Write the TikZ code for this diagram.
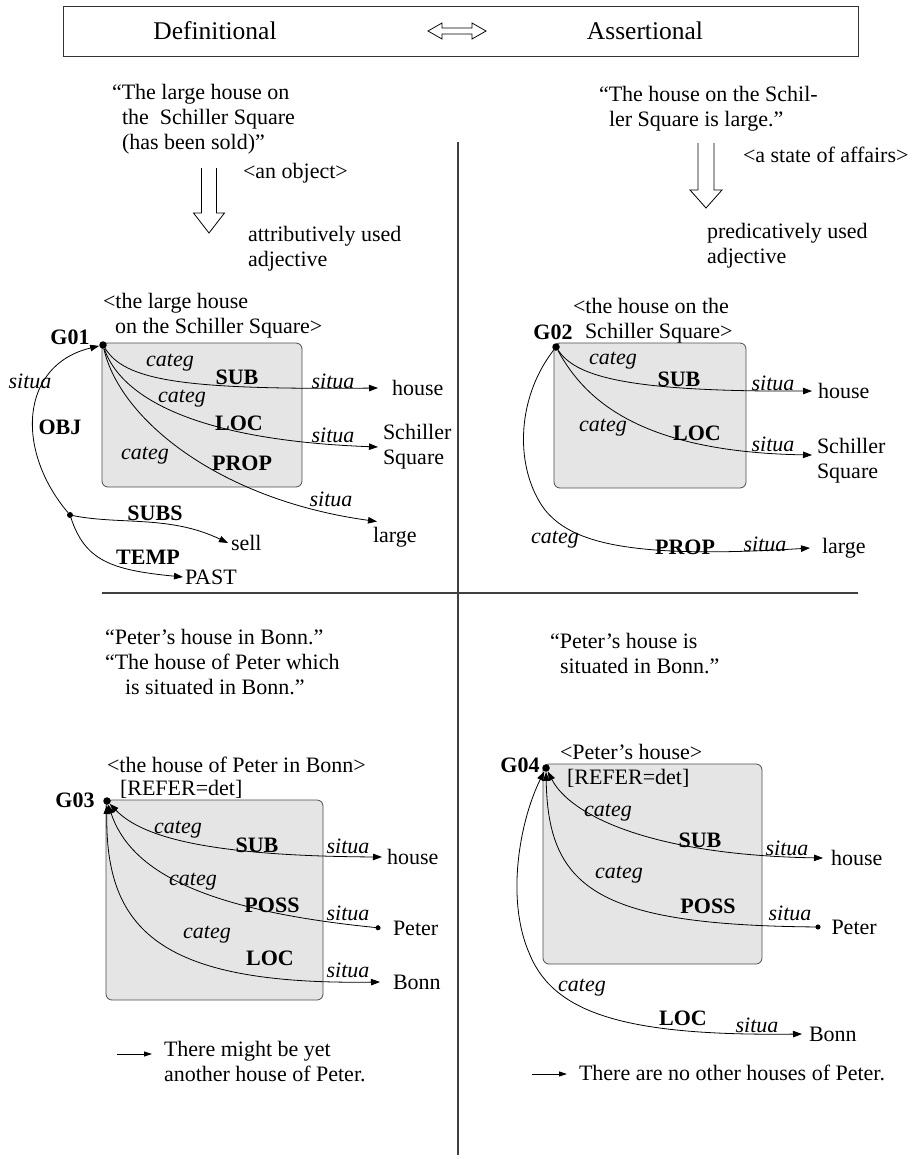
\documentclass[tikz,border=0pt]{standalone}
\usepackage{fontspec}
\setmainfont{Liberation Serif}
\usetikzlibrary{arrows.meta}
\begin{document}
\begin{tikzpicture}[x=1pt,y=-1pt,
  txt/.style={font=\fontsize{22}{25}\selectfont, inner sep=0pt, outer sep=0pt},
  head/.style={txt, font=\fontsize{25.5}{28}\selectfont},
  cat/.style={txt, font=\fontsize{22}{25}\selectfont\itshape},
  rel/.style={txt, font=\fontsize{22}{25}\selectfont\bfseries},
  blk/.style={txt, align=left, anchor=west},
  tgt/.style={txt, anchor=west, outer sep=#1},
  tgt/.default=4pt,
  gdot/.style={circle, fill=black, inner sep=0pt, minimum size=7.5pt},
  sdot/.style={circle, fill=black, inner sep=0pt, minimum size=6pt},
  conn/.style={line width=0.8pt},
  tohead/.style={conn, -{Triangle[length=9pt,width=6.5pt]}},
  bothhead/.style={conn, {Triangle[length=9pt,width=6.5pt]}-{Triangle[length=9pt,width=6.5pt]}},
  headdot/.style={conn, {Triangle[length=9pt,width=6.5pt]}-{Circle[length=5pt]}},
  notearrow/.style={conn, -{Triangle[length=8pt,width=5pt]}},
  gbox/.style={draw=black!70, line width=0.8pt, fill=black!10, rounded corners=6pt},
  hollow/.style={line width=0.8pt, line join=miter},
  divider/.style={draw=black!75, line width=1.2pt}]
\useasboundingbox (0,0) rectangle (918,1159);

% ---------- header ----------
\draw[draw=black!80, line width=1pt] (63,6) rectangle (858,56);
\node[head] (defn) at (215,31) {Definitional};
\node[head] (asrt) at (645,31) {Assertional};
\draw[hollow] (442,28) -- (472,28) -- (472,23) -- (486,31) -- (472,39) -- (472,34)
  -- (442,34) -- (442,39) -- (428,31) -- (442,23) -- cycle;

% ---------- quadrant dividers ----------
\draw[divider] (458,142) -- (458,1155);
\draw[divider] (102,593) -- (858,593);

% ---------- definitional: attributive adjective ----------
\node[blk] (q1quote) at (112,119) {“The large house on\\\hspace*{10pt}the\ \ Schiller Square\\\hspace*{10pt}(has been sold)”};
\draw[hollow] (201.5,168) -- (201.5,213) -- (193.5,213) -- (209,233) -- (224.5,213) -- (216.5,213) -- (216.5,168);
\node[blk] (q1obj) at (243,173) {<an object>};
\node[blk] (q1attr) at (248,249) {attributively used\\adjective};

\filldraw[gbox] (102,343) rectangle (302,487);
\node[blk] (box1lab) at (103,315.5) {<the large house\\\hspace*{12pt}on the Schiller Square>};
\node[rel] (g1lab) at (70,337) {G01};
\node[gdot] (g1) at (103,345) {};
\node[sdot] (o1) at (70,515) {};
\node[tgt=14pt] (house1) at (378,388) {house};
\node[tgt=5pt, align=left] (sq1) at (378,447) {Schiller\\Square};
\node[txt, anchor=west] (large1) at (373,537) {large};
\node[tgt=3pt] (sell1) at (228,543) {sell};
\node[tgt=2pt] (past1) at (183,577) {PAST};

\draw[tohead] (g1) .. controls (125,380) and (180,390) .. (house1.west);
\draw[tohead] (g1) .. controls (120,395) and (190,440) .. (sq1.west);
\draw[tohead] (g1) .. controls (120,420) and (220,500) .. ([xshift=4pt,yshift=5.5pt]large1.north west);
\draw[tohead] (o1) .. controls (15,450) and (20,365) .. (g1);
\draw[tohead] (o1) .. controls (120,525) and (170,515) .. (sell1.west);
\draw[tohead] (o1) .. controls (85,560) and (110,570) .. (past1.west);

\node[cat] (c1a) at (170,363) {categ};
\node[rel] (r1a) at (237,377) {SUB};
\node[cat] (s1a) at (333,381) {situa};
\node[cat] (c1b) at (182,399) {categ};
\node[rel] (r1b) at (239,423) {LOC};
\node[cat] (s1b) at (333,435) {situa};
\node[cat] (c1c) at (145,456) {categ};
\node[rel] (r1c) at (242,463) {PROP};
\node[cat] (s1c) at (331,499) {situa};
\node[cat] (s1o) at (30,381) {situa};
\node[rel] (r1o) at (60,427) {OBJ};
\node[rel] (r1s) at (155,513) {SUBS};
\node[rel] (r1t) at (148,557) {TEMP};

% ---------- assertional: predicative adjective ----------
\node[blk] (q2quote) at (599,108.5) {“The house on the Schil-\\\hspace*{10pt}ler Square is large.”};
\draw[hollow] (698,143) -- (698,190) -- (690,190) -- (706,208) -- (722,190) -- (714,190) -- (714,143);
\node[blk] (q2state) at (743,155) {<a state of affairs>};
\node[blk] (q2pred) at (707,245.5) {predicatively used\\adjective};

\filldraw[gbox] (554,343) rectangle (746,488);
\node[blk] (box2lab) at (573,320.5) {<the house on the\\\hspace*{12pt}Schiller Square>};
\node[rel] (g2lab) at (553,332) {G02};
\node[gdot] (g2) at (556,347) {};
\node[tgt=6pt] (house2) at (812,391) {house};
\node[tgt=5pt, align=left] (sq2) at (812,461) {Schiller\\Square};
\node[tgt=12pt] (large2) at (810,548) {large};

\draw[tohead] (g2) .. controls (575,375) and (620,392) .. (house2.west);
\draw[tohead] (g2) .. controls (585,400) and (640,452) .. ([yshift=6pt]sq2.west);
\draw[tohead] (g2) .. controls (515,400) and (515,470) .. (545,510) .. controls (570,540) and (620,560) .. (large2.west);

\node[cat] (c2a) at (613,361) {categ};
\node[rel] (r2a) at (679,379) {SUB};
\node[cat] (s2a) at (773,383) {situa};
\node[cat] (c2b) at (603,428) {categ};
\node[rel] (r2b) at (697,433) {LOC};
\node[cat] (s2b) at (773,444) {situa};
\node[cat] (c2c) at (555,540) {categ};
\node[rel] (r2c) at (685,547) {PROP};
\node[cat] (s2c) at (765,544) {situa};

% ---------- definitional: Peter's house in Bonn ----------
\node[blk] (q3quote) at (105,662) {“Peter’s house in Bonn.”\\“The house of Peter which\\\hspace*{20pt}is situated in Bonn.”};
\node[blk] (q3lab1) at (107,765) {<the house of Peter in Bonn>};
\node[blk] (q3lab2) at (120,789) {[REFER=det]};
\filldraw[gbox] (106,800) rectangle (323,1000);
\node[rel] (g3lab) at (75,800) {G03};
\node[gdot] (g3) at (107,801) {};
\node[tgt=5pt] (house3) at (382,857) {house};
\node[tgt=12.5pt] (peter3) at (380.5,928) {Peter};
\node[tgt=13pt] (bonn3) at (380,982) {Bonn};

\draw[bothhead] (g3) .. controls (140,835) and (200,856) .. (house3.west);
\draw[headdot] (g3) .. controls (130,870) and (200,910) .. (peter3.west);
\draw[bothhead] (g3) .. controls (105,930) and (160,985) .. (bonn3.west);

\node[cat] (c3a) at (178,830) {categ};
\node[rel] (r3a) at (257,845) {SUB};
\node[cat] (s3a) at (348,846) {situa};
\node[cat] (c3b) at (193,882) {categ};
\node[rel] (r3b) at (272,905) {POSS};
\node[cat] (s3b) at (348,913) {situa};
\node[cat] (c3c) at (207,935) {categ};
\node[rel] (r3c) at (270,958) {LOC};
\node[cat] (s3c) at (348,970) {situa};

\coordinate (n3s) at (117,1054);
\node[blk, outer sep=12pt] (note3) at (152,1061.5) {There might be yet\\another house of Peter.};
\draw[notearrow] (n3s) -- (n3s -| note3.west);

% ---------- assertional: Peter's house is in Bonn ----------
\node[blk] (q4quote) at (550,653.5) {“Peter’s house is\\\hspace*{10pt}situated in Bonn.”};
\filldraw[gbox] (543,764) rectangle (762,964);
\node[blk] (q4lab1) at (560,752) {<Peter’s house>};
\node[blk] (q4lab2) at (567,778) {[REFER=det]};
\node[rel] (g4lab) at (520,765) {G04};
\node[gdot] (g4) at (546,768) {};
\node[tgt=8pt] (house4) at (823,858) {house};
\node[tgt=11pt] (peter4) at (820.5,927) {Peter};
\node[tgt=7pt] (bonn4) at (802,1034) {Bonn};

\draw[bothhead] (g4) .. controls (570,815) and (650,855) .. (house4.west);
\draw[headdot] (g4) .. controls (548,890) and (600,925) .. (peter4.west);
\draw[bothhead] (g4) .. controls (520,820) and (505,900) .. (530,955) .. controls (555,1015) and (630,1036) .. (bonn4.west);

\node[cat] (c4a) at (608,813) {categ};
\node[rel] (r4a) at (700,840) {SUB};
\node[cat] (s4a) at (787,848) {situa};
\node[cat] (c4b) at (619,875) {categ};
\node[rel] (r4b) at (708,906) {POSS};
\node[cat] (s4b) at (790,913) {situa};
\node[cat] (c4c) at (582,988) {categ};
\node[rel] (r4c) at (683,1018) {LOC};
\node[cat] (s4c) at (757,1025) {situa};

\coordinate (n4s) at (532,1074);
\node[blk, outer sep=12pt] (note4) at (567,1073) {There are no other houses of Peter.};
\draw[notearrow] (n4s) -- (n4s -| note4.west);
\end{tikzpicture}
\end{document}
